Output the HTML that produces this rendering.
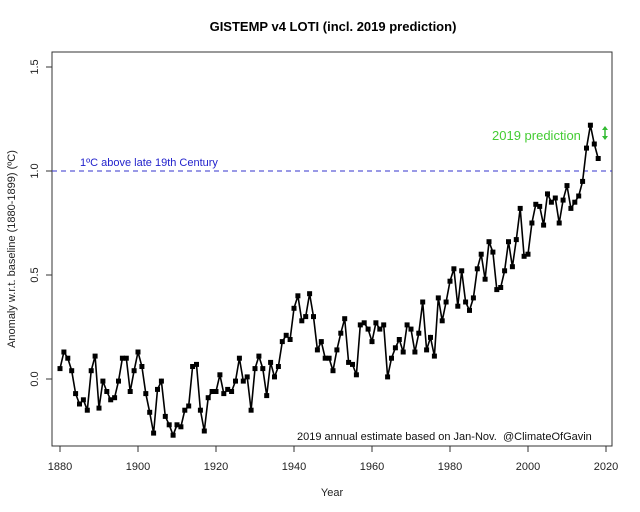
<!DOCTYPE html>
<html><head><meta charset="utf-8"><style>
html,body{margin:0;padding:0;background:#fff;}
svg{display:block;font-family:"Liberation Sans",sans-serif;}
</style></head><body>
<svg id="s" width="640" height="512" viewBox="0 0 640 512">
<text x="333" y="31" font-size="13" font-weight="bold" text-anchor="middle">GISTEMP v4 LOTI (incl. 2019 prediction)</text>
<rect x="52" y="52" width="560" height="394" fill="none" stroke="#333" stroke-width="1"/>
<g stroke="#333">
<line x1="46" y1="379" x2="52" y2="379"/><line x1="46" y1="275" x2="52" y2="275"/>
<line x1="46" y1="171" x2="52" y2="171"/><line x1="46" y1="67" x2="52" y2="67"/>
<line x1="60" y1="446" x2="60" y2="452"/><line x1="138" y1="446" x2="138" y2="452"/>
<line x1="216" y1="446" x2="216" y2="452"/><line x1="294" y1="446" x2="294" y2="452"/>
<line x1="372" y1="446" x2="372" y2="452"/><line x1="450" y1="446" x2="450" y2="452"/>
<line x1="528" y1="446" x2="528" y2="452"/><line x1="606" y1="446" x2="606" y2="452"/>
</g>
<g font-size="11" text-anchor="middle" fill="#222">
<text transform="translate(38,379) rotate(-90)">0.0</text>
<text transform="translate(38,275) rotate(-90)">0.5</text>
<text transform="translate(38,171) rotate(-90)">1.0</text>
<text transform="translate(38,67) rotate(-90)">1.5</text>
<text x="60" y="470">1880</text><text x="138" y="470">1900</text><text x="216" y="470">1920</text>
<text x="294" y="470">1940</text><text x="372" y="470">1960</text><text x="450" y="470">1980</text>
<text x="528" y="470">2000</text><text x="606" y="470">2020</text>
<text x="332" y="496">Year</text>
<text transform="translate(15,249) rotate(-90)">Anomaly w.r.t. baseline (1880-1899) (ºC)</text>
</g>
<line x1="52" y1="171" x2="612" y2="171" stroke="#33c" stroke-dasharray="5,4" stroke-width="1"/>
<text x="80" y="166" font-size="11" fill="#2222cc">1ºC above late 19th Century</text>
<text x="492" y="140" font-size="13" fill="#44cc33">2019 prediction</text>
<line x1="605" y1="127" x2="605" y2="139" stroke="#33bb33" stroke-width="1.5"/>
<path d="M602,130 L605,126 L608,130Z M602,136 L605,140 L608,136Z" fill="#33bb33"/>
<text x="297" y="440" font-size="11" fill="#111">2019 annual estimate based on Jan-Nov.</text>
<text x="503" y="440" font-size="11" fill="#111">@ClimateOfGavin</text>
<g id="d"></g>
</svg>
<script>
var v=[-16,-8,-11,-17,-28,-33,-31,-36,-17,-10,-35,-22,-27,-31,-30,-22,-11,-11,-27,-17,-8,-15,-28,-37,-47,-26,-22,-39,-43,-48,-43,-44,-36,-34,-15,-14,-36,-46,-30,-27,-27,-19,-28,-26,-27,-22,-11,-22,-20,-36,-16,-10,-16,-29,-13,-20,-15,-3,0,-2,13,19,7,9,20,9,-7,-3,-11,-11,-17,-7,1,8,-13,-14,-19,5,6,3,-3,6,3,5,-20,-11,-6,-2,-8,5,3,-8,1,16,-7,-1,-10,18,7,16,26,32,14,31,16,12,18,32,39,27,45,40,22,23,31,45,33,46,61,38,39,54,63,62,53,68,64,66,54,65,72,61,64,67,74,90,101,92,85];
var pts=[],r='';
for(var i=0;i<v.length;i++){var x=60+i*3.9,y=379-(v[i]/100+0.21)*208;pts.push(x.toFixed(1)+','+y.toFixed(1));
r+='<rect x="'+(x-2.5).toFixed(1)+'" y="'+(y-2.5).toFixed(1)+'" width="5" height="5" fill="#000"/>';}
document.getElementById('d').innerHTML='<polyline points="'+pts.join(' ')+'" fill="none" stroke="#000" stroke-width="1.6"/>'+r;
</script>
</body></html>
